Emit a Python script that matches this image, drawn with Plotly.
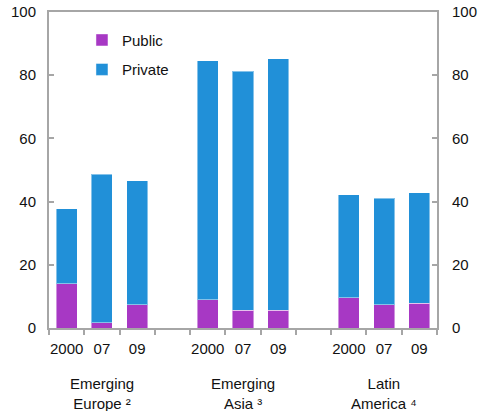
import plotly.graph_objects as go

# Regions and the years shown for each
regions = ["Emerging<br>Europe ²", "Emerging<br>Asia ³", "Latin<br>America ⁴"]
years = ["2000", "07", "09"]

# Shares by region and year (public part and total)
public = [14.0, 1.7, 7.3, 8.9, 5.6, 5.6, 9.5, 7.3, 7.9]
total = [37.8, 48.7, 46.6, 84.5, 81.3, 85.2, 42.2, 41.1, 42.8]
private = [t - p for t, p in zip(total, public)]

# Bar slots: three bars per region, one empty slot between regions
xpos = [g * 4 + i for g in range(len(regions)) for i in range(len(years))]
year_labels = [years[i] for g in range(len(regions)) for i in range(len(years))]
n_slots = len(regions) * 4 - 1
boundaries = [k - 0.5 for k in range(n_slots + 1)]

PUBLIC_C = "#a738c4"
PRIVATE_C = "#2190d8"
AXIS_C = "#a6a6a6"
FONT = "Liberation Sans, Arial, sans-serif"
TEXT_C = "#111111"

fig = go.Figure()
fig.add_trace(go.Bar(x=xpos, y=public, name="Public", marker_color=PUBLIC_C,
                     marker_line=dict(color="rgba(255,255,255,0.45)", width=1),
                     width=0.6, legendgroup="public"))
fig.add_trace(go.Bar(x=xpos, y=private, name="Private", marker_color=PRIVATE_C,
                     marker_line=dict(color="rgba(255,255,255,0.45)", width=1),
                     width=0.6, legendgroup="private"))
# invisible trace to activate the right-hand axis
fig.add_trace(go.Scatter(x=[xpos[0]], y=[0], yaxis="y2", mode="markers",
                         marker=dict(opacity=0), showlegend=False, hoverinfo="skip"))
# invisible trace carrying the year tick labels
fig.add_trace(go.Scatter(x=xpos, y=[0] * len(xpos), xaxis="x2", mode="markers",
                         marker=dict(opacity=0), showlegend=False, hoverinfo="skip"))

fig.update_layout(
    width=479, height=411,
    margin=dict(l=49, r=42, t=12, b=83, autoexpand=False),
    barmode="stack",
    plot_bgcolor="white", paper_bgcolor="white",
    font=dict(family=FONT, size=15, color=TEXT_C),
    showlegend=True,
    legend=dict(x=0.085, y=0.963, xanchor="left", yanchor="top",
                traceorder="grouped", bgcolor="rgba(0,0,0,0)",
                font=dict(size=15), tracegroupgap=7, itemwidth=30),
    xaxis=dict(range=[boundaries[0], boundaries[-1]], tickvals=boundaries,
               showticklabels=False, ticks="outside", ticklen=5, tickwidth=2,
               tickcolor=AXIS_C, showline=True, linecolor=AXIS_C, linewidth=2,
               mirror=True, showgrid=False, zeroline=False, automargin=False),
    xaxis2=dict(overlaying="x", anchor="y", side="bottom",
                range=[boundaries[0], boundaries[-1]],
                tickvals=xpos, ticktext=year_labels, ticks="outside", ticklen=7,
                tickcolor="rgba(0,0,0,0)", showline=False, showgrid=False,
                zeroline=False, tickfont=dict(size=15, color=TEXT_C),
                automargin=False),
    yaxis=dict(range=[0, 100], tickvals=[0, 20, 40, 60, 80, 100],
               ticks="inside", ticklen=5, tickwidth=2, tickcolor=AXIS_C,
               showline=True, linecolor=AXIS_C, linewidth=2, showgrid=False,
               zeroline=False, ticklabelstandoff=8, automargin=False),
    yaxis2=dict(range=[0, 100], tickvals=[0, 20, 40, 60, 80, 100],
                overlaying="y", side="right", anchor="x",
                ticks="inside", ticklen=5, tickwidth=2, tickcolor=AXIS_C,
                showline=True, linecolor=AXIS_C, linewidth=2, showgrid=False,
                zeroline=False, ticklabelstandoff=10, automargin=False),
)
# region names under the middle bar of each group
for g in range(len(regions)):
    mid = xpos[g * len(years) + 1]
    fig.add_annotation(x=mid, y=0, xref="x", yref="paper", text=regions[g],
                       showarrow=False, yanchor="top", yshift=-45,
                       font=dict(size=15, color=TEXT_C))

fig.write_html("out.html")
